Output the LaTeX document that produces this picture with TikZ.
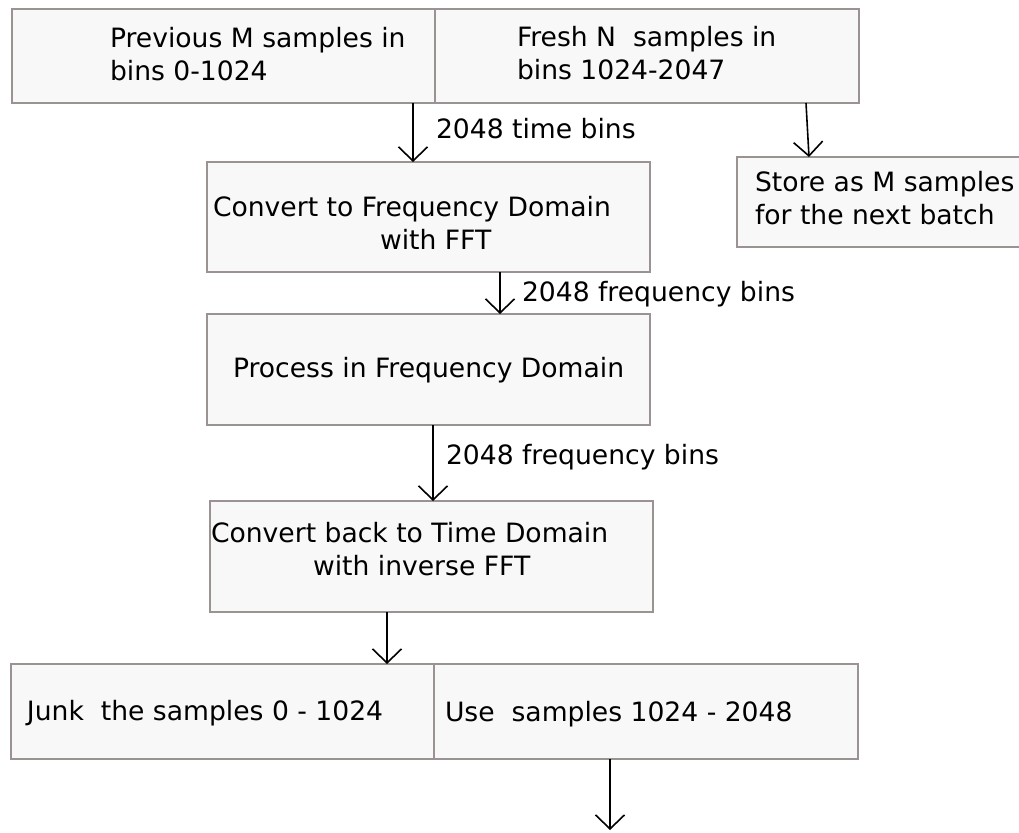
\documentclass[tikz,border=0pt]{standalone}
\usepackage{fontspec}
\setmainfont{DejaVu Sans}
\usetikzlibrary{arrows.meta}
\definecolor{boxfill}{HTML}{F8F8F8}
\definecolor{boxline}{HTML}{9A9392}
\begin{document}
\begin{tikzpicture}[x=1pt,y=-1pt,
  box/.style={draw=boxline, fill=boxfill, line width=1.8pt, rectangle, inner sep=0pt, outer sep=0pt, anchor=north west},
  txt/.style={anchor=base west, inner sep=0pt, outer sep=0pt, font=\fontsize{26.6}{32}\selectfont},
  arr/.style={draw=black, line width=1.6pt, -{Straight Barb[length=14pt,width=29pt,line width=1.6pt]}}]
\useasboundingbox (0,0) rectangle (1019,832);
% boxes
\node[box, minimum width=423pt, minimum height=94pt] (tl) at (12,9) {};
\node[box, minimum width=424pt, minimum height=94pt] (tr) at (435,9) {};
\node[box, minimum width=290pt, minimum height=90pt] (st) at (737,157) {};
\node[box, minimum width=443pt, minimum height=110pt] (fft) at (207,162) {};
\node[box, minimum width=443pt, minimum height=111pt] (proc) at (207,314) {};
\node[box, minimum width=443pt, minimum height=111pt] (inv) at (210,501) {};
\node[box, minimum width=423pt, minimum height=95pt] (bl) at (11,664) {};
\node[box, minimum width=424pt, minimum height=95pt] (br) at (434,664) {};
% texts
\node[txt] (t1a) at (110,48) {Previous M samples in};
\node[txt] (t1b) at (110,81) {bins 0-1024};
\node[txt] (t2a) at (517,47) {Fresh N~ samples in};
\node[txt] (t2b) at (517,80) {bins 1024-2047};
\node[txt] (l1) at (436,139) {2048 time bins};
\node[txt] (t3a) at (755,191) {Store as M samples};
\node[txt] (t3b) at (755,224) {for the next batch};
\node[txt] (t4a) at (213,216) {Convert to Frequency Domain};
\node[txt] (t4b) at (380,249) {with FFT};
\node[txt] (l2) at (522,301) {2048 frequency bins};
\node[txt] (t5) at (233,377) {Process in Frequency Domain};
\node[txt] (l3) at (446,464) {2048 frequency bins};
\node[txt] (t6a) at (211,542) {Convert back to Time Domain};
\node[txt] (t6b) at (313,575) {with inverse FFT};
\node[txt] (t7) at (27,720) {Junk~ the samples 0 - 1024};
\node[txt] (t8) at (445,721) {Use~ samples 1024 - 2048};
% connector x positions
\coordinate (x1) at (413,0);
\coordinate (x2a) at (806,0);
\coordinate (x2b) at (809,0);
\coordinate (x3) at (500,0);
\coordinate (x4) at (433,0);
\coordinate (x5) at (387,0);
\coordinate (x6) at (610,0);
\coordinate (end6) at (610,830);
% connectors
\draw[arr] (tl.south -| x1) -- (fft.north -| x1);
\draw[arr] (tr.south -| x2a) -- (st.north -| x2b);
\draw[arr] (fft.south -| x3) -- (proc.north -| x3);
\draw[arr] (proc.south -| x4) -- (inv.north -| x4);
\draw[arr] (inv.south -| x5) -- (bl.north -| x5);
\draw[arr] (br.south -| x6) -- (end6);
\end{tikzpicture}
\end{document}
